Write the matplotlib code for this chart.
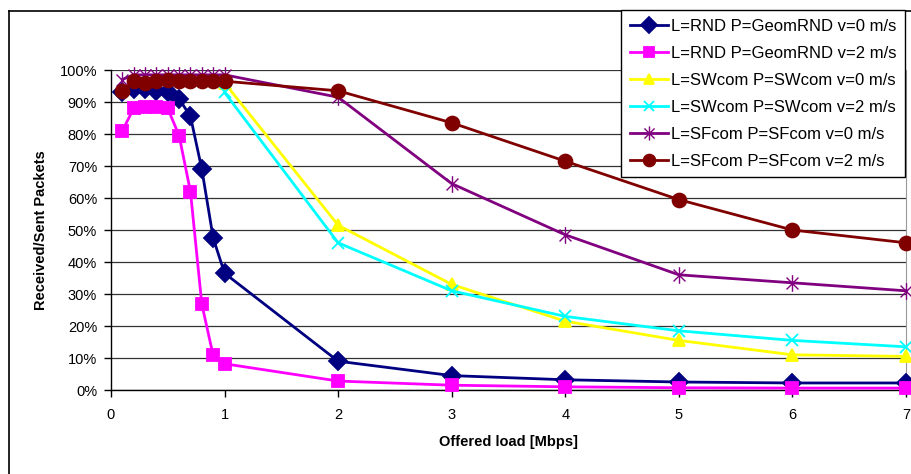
import numpy as np
import matplotlib.pyplot as plt
from matplotlib.path import Path
from matplotlib.lines import Line2D

plt.rcParams['font.family'] = ['Liberation Sans', 'DejaVu Sans']

# offered load [Mbps]
x_low = [0.1, 0.2, 0.3, 0.4, 0.5, 0.6, 0.7, 0.8, 0.9, 1.0, 2, 3, 4, 5, 6, 7]
x_high = [1, 2, 3, 4, 5, 6, 7]

# received / sent packets [%]
rnd_v0 = [93, 94, 94, 93.5, 93, 91, 85.5, 69, 47.5, 36.5, 9, 4.5, 3.2, 2.5, 2.2, 2.2]
rnd_v2 = [81, 88, 88.5, 88.5, 88, 79.5, 62, 26.8, 10.8, 8.2, 2.8, 1.5, 1.0, 0.7, 0.6, 0.6]
sw_v0 = [96, 51.5, 33, 21.5, 15.5, 11, 10.5]
sw_v2 = [93, 46, 31, 23, 18.5, 15.5, 13.5]
sf_v0 = [97, 98.5, 98.5, 98.5, 98.5, 98.5, 98.5, 98.5, 98.5, 98.5, 91.5, 64.5, 48.5, 36, 33.5, 31]
sf_v2 = [93.5, 96.5, 96, 96.5, 97, 96.5, 96.5, 96.5, 96.5, 96.5, 93.5, 83.5, 71.5, 59.5, 50, 46]

labels = ['L=RND P=GeomRND v=0 m/s', 'L=RND P=GeomRND v=2 m/s',
          'L=SWcom P=SWcom v=0 m/s', 'L=SWcom P=SWcom v=2 m/s',
          'L=SFcom P=SFcom v=0 m/s', 'L=SFcom P=SFcom v=2 m/s']

# excel-like star: X plus vertical bar
star = Path([(-1, -1), (1, 1), (-1, 1), (1, -1), (0, -1.4), (0, 1.4)],
            [Path.MOVETO, Path.LINETO, Path.MOVETO, Path.LINETO, Path.MOVETO, Path.LINETO])

series = [
    (x_low, rnd_v0, '#000080', 'D', 9, 1.3),
    (x_low, rnd_v2, '#FF00FF', 's', 9, 1.3),
    (x_high, sw_v0, '#FFFF00', '^', 9, 1.3),
    (x_high, sw_v2, '#00FFFF', 'x', 9, 1.3),
    (x_low, sf_v0, '#800080', star, 12, 1.0),
    (x_low, sf_v2, '#800000', 'o', 10, 1.3),
]

fig = plt.figure(figsize=(9.11, 4.74), dpi=100)
ax = fig.add_axes([0.1218, 0.1772, 0.8727, 0.6751])

for (xs, ys, col, mk, ms, mew), lab in zip(series, labels):
    ax.plot(xs, np.array(ys) / 100, color=col, lw=2, marker=mk, ms=ms,
            mfc=col, mec=col, mew=mew, label=lab, clip_on=False, zorder=3)

ax.set_xlim(0, 7)
ax.set_ylim(0, 1)
ax.set_xticks(range(8))
ax.set_yticks(np.arange(0, 1.01, 0.1))
ax.set_yticklabels([f'{int(round(v * 100))}%' for v in np.arange(0, 1.01, 0.1)])
ax.tick_params(direction='out', length=5, width=1, labelsize=10.5, colors='black')
ax.tick_params(axis='x', pad=8)
ax.tick_params(axis='y', pad=5)
ax.grid(axis='y', color='#333333', lw=0.9)
ax.set_axisbelow(True)
ax.spines['top'].set_visible(False)
ax.spines['right'].set_color('#999999')
ax.spines['left'].set_linewidth(1)
ax.spines['bottom'].set_linewidth(1)

ax.set_xlabel('Offered load [Mbps]', fontsize=10.5, fontweight='bold', labelpad=9)
ax.set_ylabel('Received/Sent Packets', fontsize=10.5, fontweight='bold', labelpad=8)

leg = fig.legend(loc='upper right', bbox_to_anchor=(0.9935, 0.978), fontsize=12,
                 frameon=True, fancybox=False, edgecolor='black', framealpha=1,
                 handlelength=2.3, labelspacing=0.72, borderpad=0.5, handletextpad=0.2,
                 borderaxespad=0, markerscale=0.85)
leg.get_frame().set_linewidth(1)

# outer chart border (cropped on right and bottom)
fig.add_artist(Line2D([0.0099, 0.0099], [-0.05, 0.9768], color='black', lw=1.2))
fig.add_artist(Line2D([0.0099, 1.05], [0.9768, 0.9768], color='black', lw=1.2))

fig.savefig('out.png', dpi=100)
